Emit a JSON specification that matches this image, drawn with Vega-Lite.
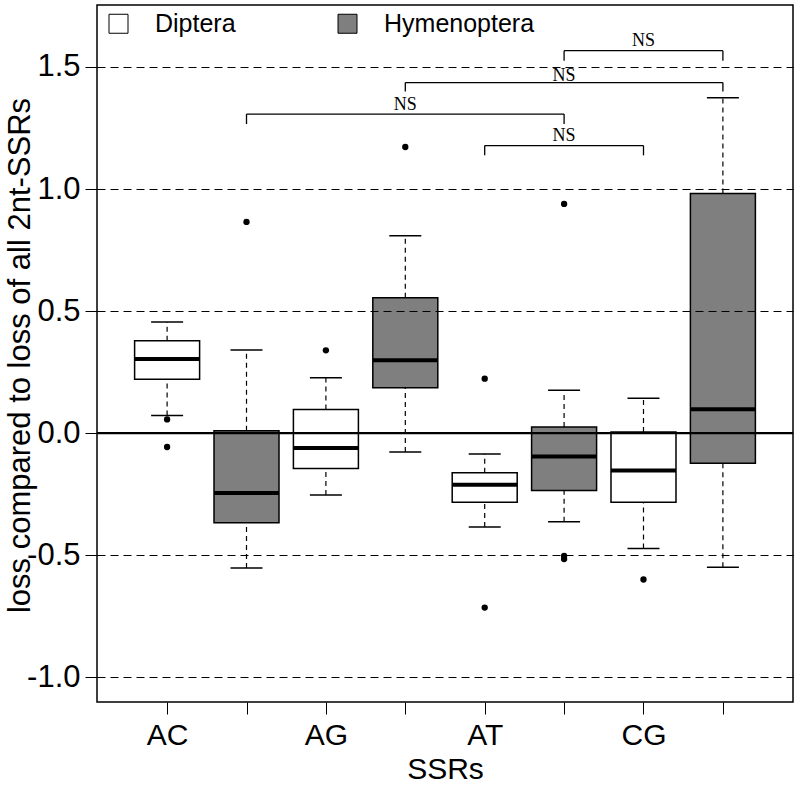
{
  "$schema": "https://vega.github.io/schema/vega-lite/v6.json",
  "width": 696,
  "height": 697,
  "autosize": "none",
  "padding": {"left": 97, "top": 5, "right": 7, "bottom": 84},
  "background": "white",
  "config": {
    "view": {"stroke": "black", "strokeWidth": 1.5},
    "font": "Liberation Sans",
    "axis": {
      "domain": false,
      "tickColor": "black",
      "labelColor": "black",
      "titleColor": "black",
      "labelFont": "Liberation Sans",
      "titleFont": "Liberation Sans",
      "titleFontWeight": "normal"
    }
  },
  "datasets": {
    "boxes": [
      {"pos": 1, "ssr": "AC", "group": "Diptera", "lo": 0.072, "q1": 0.220, "med": 0.303, "q3": 0.378, "hi": 0.455},
      {"pos": 2, "ssr": "AC", "group": "Hymenoptera", "lo": -0.553, "q1": -0.367, "med": -0.246, "q3": 0.0096, "hi": 0.340},
      {"pos": 3, "ssr": "AG", "group": "Diptera", "lo": -0.254, "q1": -0.145, "med": -0.061, "q3": 0.097, "hi": 0.227},
      {"pos": 4, "ssr": "AG", "group": "Hymenoptera", "lo": -0.078, "q1": 0.186, "med": 0.298, "q3": 0.554, "hi": 0.808},
      {"pos": 5, "ssr": "AT", "group": "Diptera", "lo": -0.385, "q1": -0.284, "med": -0.212, "q3": -0.163, "hi": -0.086},
      {"pos": 6, "ssr": "AT", "group": "Hymenoptera", "lo": -0.363, "q1": -0.235, "med": -0.096, "q3": 0.025, "hi": 0.175},
      {"pos": 7, "ssr": "CG", "group": "Diptera", "lo": -0.473, "q1": -0.284, "med": -0.153, "q3": 0.004, "hi": 0.143},
      {"pos": 8, "ssr": "CG", "group": "Hymenoptera", "lo": -0.550, "q1": -0.124, "med": 0.098, "q3": 0.982, "hi": 1.374}
    ],
    "outliers": [
      {"pos": 1, "value": 0.056},
      {"pos": 1, "value": -0.057},
      {"pos": 2, "value": 0.865},
      {"pos": 3, "value": 0.339},
      {"pos": 4, "value": 1.172},
      {"pos": 5, "value": 0.223},
      {"pos": 5, "value": -0.715},
      {"pos": 6, "value": 0.939},
      {"pos": 6, "value": -0.503},
      {"pos": 6, "value": -0.516},
      {"pos": 7, "value": -0.600}
    ],
    "brackets": [
      {"x1": 2, "x2": 6, "y": 1.307, "yleg": 1.266, "lx": 4, "ly": 1.344, "label": "NS"},
      {"x1": 4, "x2": 8, "y": 1.436, "yleg": 1.400, "lx": 6, "ly": 1.463, "label": "NS"},
      {"x1": 6, "x2": 8, "y": 1.567, "yleg": 1.526, "lx": 7, "ly": 1.607, "label": "NS"},
      {"x1": 5, "x2": 7, "y": 1.178, "yleg": 1.138, "lx": 6, "ly": 1.217, "label": "NS"}
    ],
    "zero": [{"y": 0}]
  },
  "layer": [
    {
      "data": {"name": "boxes"},
      "mark": {"type": "rule", "strokeDash": [5, 4], "strokeWidth": 1.2, "color": "black"},
      "encoding": {
        "x": {
          "field": "pos", "type": "quantitative", "title": "SSRs",
          "scale": {"domain": [0.18, 8.82], "nice": false, "zero": false},
          "axis": {
            "values": [1, 2, 3, 4, 5, 6, 7, 8],
            "labelExpr": "datum.value == 1 ? 'AC' : datum.value == 3 ? 'AG' : datum.value == 5 ? 'AT' : datum.value == 7 ? 'CG' : ''",
            "labelOverlap": false,
            "labelFlush": false,
            "tickSize": 12,
            "tickWidth": 1,
            "labelFontSize": 30,
            "labelPadding": 6,
            "grid": false,
            "titleFontSize": 30,
            "titleBaseline": "alphabetic",
            "titleY": 76
          }
        },
        "y": {
          "field": "q3", "type": "quantitative", "title": "loss compared to loss of all 2nt-SSRs",
          "scale": {"domain": [-1.102, 1.754], "nice": false, "zero": false},
          "axis": {
            "values": [-1, -0.5, 0, 0.5, 1, 1.5],
            "labelExpr": "replace(format(datum.value, '.1f'), '−', '-')",
            "tickSize": 12,
            "tickWidth": 1,
            "labelFontSize": 31,
            "labelPadding": 5,
            "grid": true,
            "gridDash": [8, 5],
            "gridColor": "black",
            "gridWidth": 1,
            "gridOpacity": 1,
            "zindex": 1,
            "titleFontSize": 31,
            "titleBaseline": "alphabetic",
            "titleX": -68,
            "titleY": 350
          }
        },
        "y2": {"field": "hi"}
      }
    },
    {
      "data": {"name": "boxes"},
      "mark": {"type": "rule", "strokeDash": [5, 4], "strokeWidth": 1.2, "color": "black"},
      "encoding": {
        "x": {"field": "pos", "type": "quantitative", "title": "SSRs"},
        "y": {"field": "lo", "type": "quantitative", "title": "loss compared to loss of all 2nt-SSRs"},
        "y2": {"field": "q1"}
      }
    },
    {
      "data": {"name": "boxes"},
      "mark": {"type": "tick", "orient": "horizontal", "size": 32, "thickness": 1.5, "color": "black", "opacity": 1},
      "encoding": {
        "x": {"field": "pos", "type": "quantitative", "title": "SSRs"},
        "y": {"field": "hi", "type": "quantitative", "title": "loss compared to loss of all 2nt-SSRs"}
      }
    },
    {
      "data": {"name": "boxes"},
      "mark": {"type": "tick", "orient": "horizontal", "size": 32, "thickness": 1.5, "color": "black", "opacity": 1},
      "encoding": {
        "x": {"field": "pos", "type": "quantitative", "title": "SSRs"},
        "y": {"field": "lo", "type": "quantitative", "title": "loss compared to loss of all 2nt-SSRs"}
      }
    },
    {
      "data": {"name": "boxes"},
      "mark": {"type": "bar", "width": 65, "stroke": "black", "strokeWidth": 1.5, "opacity": 1},
      "encoding": {
        "x": {"field": "pos", "type": "quantitative", "title": "SSRs"},
        "y": {"field": "q1", "type": "quantitative", "title": "loss compared to loss of all 2nt-SSRs"},
        "y2": {"field": "q3"},
        "fill": {
          "field": "group", "type": "nominal",
          "scale": {"domain": ["Diptera", "Hymenoptera"], "range": ["#ffffff", "#7f7f7f"]},
          "legend": {
            "orient": "none",
            "legendX": 9,
            "legendY": 6,
            "direction": "horizontal",
            "title": null,
            "symbolType": "square",
            "symbolSize": 361,
            "symbolStrokeColor": "black",
            "symbolStrokeWidth": 1,
            "symbolOpacity": 1,
            "labelFontSize": 25,
            "labelFont": "Liberation Sans",
            "labelColor": "black",
            "labelOffset": 24,
            "columnPadding": 99,
            "padding": 0
          }
        }
      }
    },
    {
      "data": {"name": "boxes"},
      "mark": {"type": "tick", "orient": "horizontal", "size": 65, "thickness": 4, "color": "black", "opacity": 1},
      "encoding": {
        "x": {"field": "pos", "type": "quantitative", "title": "SSRs"},
        "y": {"field": "med", "type": "quantitative", "title": "loss compared to loss of all 2nt-SSRs"}
      }
    },
    {
      "data": {"name": "outliers"},
      "mark": {"type": "point", "filled": true, "size": 40, "color": "black", "opacity": 1},
      "encoding": {
        "x": {"field": "pos", "type": "quantitative", "title": "SSRs"},
        "y": {"field": "value", "type": "quantitative", "title": "loss compared to loss of all 2nt-SSRs"}
      }
    },
    {
      "data": {"name": "zero"},
      "mark": {"type": "rule", "color": "black", "strokeWidth": 2.2},
      "encoding": {
        "y": {"field": "y", "type": "quantitative", "title": "loss compared to loss of all 2nt-SSRs"}
      }
    },
    {
      "data": {"name": "brackets"},
      "mark": {"type": "rule", "color": "black", "strokeWidth": 1.3},
      "encoding": {
        "x": {"field": "x1", "type": "quantitative", "title": "SSRs"},
        "x2": {"field": "x2"},
        "y": {"field": "y", "type": "quantitative", "title": "loss compared to loss of all 2nt-SSRs"}
      }
    },
    {
      "data": {"name": "brackets"},
      "mark": {"type": "rule", "color": "black", "strokeWidth": 1.3},
      "encoding": {
        "x": {"field": "x1", "type": "quantitative", "title": "SSRs"},
        "y": {"field": "yleg", "type": "quantitative", "title": "loss compared to loss of all 2nt-SSRs"},
        "y2": {"field": "y"}
      }
    },
    {
      "data": {"name": "brackets"},
      "mark": {"type": "rule", "color": "black", "strokeWidth": 1.3},
      "encoding": {
        "x": {"field": "x2", "type": "quantitative", "title": "SSRs"},
        "y": {"field": "yleg", "type": "quantitative", "title": "loss compared to loss of all 2nt-SSRs"},
        "y2": {"field": "y"}
      }
    },
    {
      "data": {"name": "brackets"},
      "mark": {"type": "text", "font": "Liberation Serif", "fontSize": 18, "color": "black", "baseline": "middle", "align": "center"},
      "encoding": {
        "x": {"field": "lx", "type": "quantitative", "title": "SSRs"},
        "y": {"field": "ly", "type": "quantitative", "title": "loss compared to loss of all 2nt-SSRs"},
        "text": {"field": "label"}
      }
    }
  ]
}
